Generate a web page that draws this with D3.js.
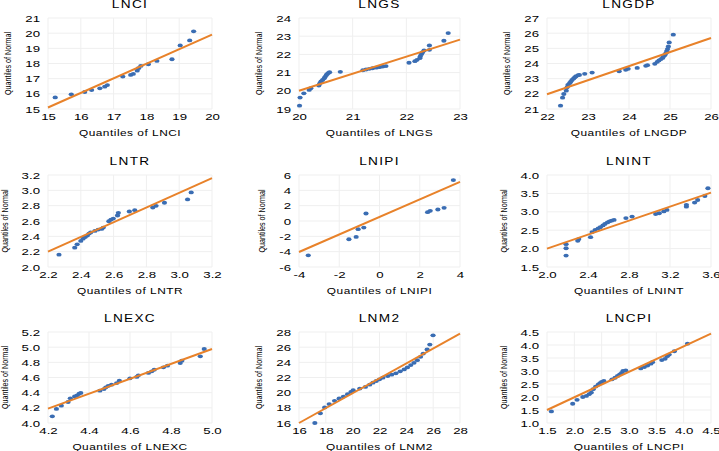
<!DOCTYPE html>
<html><head><meta charset="utf-8">
<script src="https://cdn.jsdelivr.net/npm/d3@7"></script>
<style>
html,body{margin:0;padding:0;background:#fff;}
svg{display:block;font-family:"Liberation Sans",Arial,sans-serif;}
</style></head>
<body>
<svg id="chart" width="719" height="451"></svg>
<script>
// ---- data ----
const titles = ["LNCI","LNGS","LNGDP","LNTR","LNIPI","LNINT","LNEXC","LNM2","LNCPI"];

const lnciX = [15.22,15.71,16.12,16.33,16.58,16.73,16.81,17.28,17.52,17.60,17.72,17.76,17.83,18.06,18.32,18.78,19.03,19.32,19.44];
const lnciY = [15.76,15.97,16.12,16.25,16.36,16.47,16.58,17.14,17.25,17.31,17.53,17.69,17.84,17.95,18.17,18.28,19.19,19.52,20.12];

const lngsX = [20.01,20.02,20.09,20.19,20.22,20.37,20.39,20.41,20.44,20.47,20.49,20.51,20.53,20.55,20.57,20.77,21.19,21.25,21.31,21.37,21.44,21.50,21.56,21.62,22.05,22.16,22.20,22.25,22.26,22.28,22.30,22.33,22.43,22.43,22.70,22.78];
const lngsY = [19.18,19.63,19.86,20.05,20.14,20.29,20.42,20.51,20.60,20.69,20.78,20.87,20.93,20.99,21.02,21.04,21.13,21.17,21.21,21.24,21.27,21.30,21.33,21.36,21.54,21.63,21.70,21.79,21.89,22.01,22.11,22.22,22.25,22.49,22.75,23.17];

const lngdpX = [22.33,22.38,22.41,22.47,22.49,22.51,22.55,22.58,22.61,22.65,22.68,22.71,22.76,22.79,22.92,23.10,23.76,23.92,23.98,24.20,24.41,24.45,24.63,24.69,24.73,24.78,24.82,24.84,24.87,24.90,24.92,24.94,24.96,24.98,25.08];
const lngdpY = [21.22,21.75,21.99,22.21,22.43,22.59,22.70,22.81,22.92,23.01,23.10,23.16,23.23,23.25,23.32,23.40,23.49,23.58,23.65,23.71,23.85,23.89,23.98,24.11,24.20,24.29,24.37,24.46,24.55,24.68,24.82,24.95,25.12,25.39,25.90];

const lntrX = [2.267,2.363,2.378,2.40,2.414,2.427,2.44,2.45,2.46,2.486,2.506,2.527,2.537,2.571,2.584,2.598,2.624,2.629,2.696,2.729,2.839,2.859,2.91,3.051,3.073];
const lntrY = [2.161,2.252,2.296,2.34,2.37,2.39,2.41,2.436,2.45,2.47,2.488,2.497,2.514,2.597,2.619,2.632,2.672,2.707,2.724,2.741,2.776,2.798,2.838,2.881,2.973];

const lnipiX = [-3.54,-1.52,-1.16,-1.06,-0.78,-0.67,2.39,2.52,2.90,3.21,3.67];
const lnipiY = [-4.48,-2.38,-2.08,-1.07,-0.86,0.98,1.15,1.33,1.50,1.72,5.34];

const lnintX = [2.186,2.186,2.186,2.30,2.31,2.425,2.44,2.47,2.50,2.52,2.546,2.565,2.59,2.61,2.63,2.654,2.77,2.83,3.06,3.095,3.14,3.17,3.36,3.36,3.44,3.47,3.54,3.57];
const lnintY = [1.81,2.01,2.12,2.21,2.26,2.31,2.45,2.51,2.55,2.58,2.63,2.67,2.71,2.74,2.76,2.78,2.83,2.87,2.94,2.96,3.01,3.05,3.14,3.19,3.25,3.32,3.43,3.64];

const lnexcX = [4.221,4.241,4.265,4.298,4.309,4.33,4.342,4.352,4.36,4.453,4.473,4.482,4.494,4.51,4.535,4.548,4.60,4.633,4.641,4.69,4.706,4.718,4.763,4.783,4.845,4.853,4.943,4.962];
const lnexcY = [4.088,4.185,4.229,4.277,4.325,4.35,4.365,4.387,4.396,4.426,4.448,4.47,4.49,4.505,4.527,4.558,4.589,4.607,4.629,4.66,4.681,4.703,4.734,4.756,4.791,4.822,4.879,4.976];

const lnm2X = [17.18,17.59,17.91,18.25,18.65,18.99,19.31,19.62,19.87,20.04,20.53,20.95,21.27,21.51,21.76,22.0,22.25,22.61,22.91,23.22,23.54,23.84,24.08,24.33,24.57,24.82,25.06,25.26,25.55,25.75,25.99];
const lnm2Y = [16.0,17.27,18.05,18.49,18.92,19.23,19.49,19.80,20.10,20.32,20.54,20.76,21.06,21.32,21.54,21.76,21.98,22.20,22.37,22.55,22.81,23.07,23.33,23.64,23.94,24.29,24.73,25.16,25.69,26.34,27.56];

const lncpiX = [1.58,1.97,2.05,2.155,2.22,2.27,2.31,2.345,2.39,2.44,2.47,2.50,2.54,2.69,2.745,2.79,2.83,2.866,2.89,2.94,3.215,3.28,3.34,3.40,3.43,3.60,3.66,3.70,3.735,3.83,4.07];
const lncpiY = [1.445,1.74,1.89,2.0,2.04,2.11,2.17,2.30,2.40,2.48,2.53,2.58,2.62,2.68,2.74,2.81,2.87,2.93,3.0,3.02,3.10,3.15,3.21,3.28,3.34,3.42,3.47,3.57,3.63,3.76,4.05];

// fitted reference lines: y-values at the two ends of the x axis
const lineStartY = [15.1, 20.0, 21.97, 2.2, -4.04, 2.0, 4.19, 16.0, 1.5];
const lineEndY   = [19.9, 22.81, 25.68, 3.16, 5.1, 3.52, 4.976, 27.8, 4.44];

const xTickValues = [
  [15,16,17,18,19,20],[20,21,22,23],[22,23,24,25,26],
  [2.2,2.4,2.6,2.8,3.0,3.2],[-4,-2,0,2,4],[2.0,2.4,2.8,3.2,3.6],
  [4.2,4.4,4.6,4.8,5.0],[16,18,20,22,24,26,28],[1.5,2.0,2.5,3.0,3.5,4.0,4.5]
];
const yTickValues = [
  [15,16,17,18,19,20,21],[19,20,21,22,23,24],[21,22,23,24,25,26,27],
  [2.0,2.2,2.4,2.6,2.8,3.0,3.2],[-6,-4,-2,0,2,4,6],[1.5,2.0,2.5,3.0,3.5,4.0],
  [4.0,4.2,4.4,4.6,4.8,5.0,5.2],[16,18,20,22,24,26,28],[1.0,1.5,2.0,2.5,3.0,3.5,4.0,4.5]
];
const tickDecimals = [0,0,0,1,0,1,1,0,1];

const seriesX = [lnciX,lngsX,lngdpX,lntrX,lnipiX,lnintX,lnexcX,lnm2X,lncpiX];
const seriesY = [lnciY,lngsY,lngdpY,lntrY,lnipiY,lnintY,lnexcY,lnm2Y,lncpiY];

// ---- layout ----
const colBounds = [[48,212],[299,460],[547,711]];
const rowBounds = [[18,109],[175,267],[332,423]];
const TICK_FS = 9.6, TICK_SX = 1.38;

const svg = d3.select("#chart");

titles.forEach((title, i) => {
  const c = i % 3, r = Math.floor(i / 3);
  const [x0, x1] = colBounds[c], [y0, y1] = rowBounds[r];
  const xt = xTickValues[i], yt = yTickValues[i];
  const x = d3.scaleLinear().domain([xt[0], xt[xt.length-1]]).range([x0, x1]);
  const y = d3.scaleLinear().domain([yt[0], yt[yt.length-1]]).range([y1, y0]);
  const fmt = d3.format("." + tickDecimals[i] + "f");
  const tf = d => fmt(d).replace("\u2212","-");
  const g = svg.append("g");

  // gridlines
  g.append("g").selectAll("line").data(xt).join("line")
    .attr("x1", d => x(d)).attr("x2", d => x(d)).attr("y1", y0).attr("y2", y1)
    .attr("stroke", "#efefef").attr("stroke-width", 1);
  g.append("g").selectAll("line").data(yt).join("line")
    .attr("y1", d => y(d)).attr("y2", d => y(d)).attr("x1", x0).attr("x2", x1)
    .attr("stroke", "#efefef").attr("stroke-width", 1);

  // x axis (labels only)
  const gx = g.append("g").attr("transform", `translate(0,${y1 + 4})`)
    .call(d3.axisBottom(x).tickValues(xt).tickFormat(tf).tickSize(0).tickPadding(0));
  gx.select(".domain").remove();
  gx.selectAll("text").attr("font-size", TICK_FS).attr("fill", "#000")
    .attr("font-family", "Liberation Sans, Arial, sans-serif")
    .attr("transform", `scale(${TICK_SX},1)`);

  // y axis (labels only)
  const gy = g.append("g").attr("transform", `translate(${x0},0)`)
    .call(d3.axisLeft(y).tickValues(yt).tickFormat(tf).tickSize(0).tickPadding(8));
  gy.select(".domain").remove();
  gy.selectAll("text").attr("font-size", TICK_FS).attr("fill", "#000")
    .attr("font-family", "Liberation Sans, Arial, sans-serif")
    .attr("x", -8 / TICK_SX)
    .attr("transform", `scale(${TICK_SX},1)`);

  let maxW = 0;
  gy.selectAll("text").each(function(){ maxW = Math.max(maxW, this.getComputedTextLength() * TICK_SX); });

  // title
  g.append("text").attr("transform", `translate(${(x0 + x1) / 2},${y0 - 10}) scale(1.3,1)`)
    .attr("text-anchor", "middle").attr("font-size", 10.5).attr("letter-spacing", 1)
    .attr("fill", "#000").text(title);

  // x label
  g.append("text").attr("transform", `translate(${(x0 + x1) / 2},${y1 + 26.5}) scale(1.25,1)`)
    .attr("text-anchor", "middle").attr("font-size", 9.5).attr("letter-spacing", 0.4)
    .attr("fill", "#000").text("Quantiles of " + title);

  // y label
  const ly = (y0 + y1) / 2, lx = x0 - 8 - maxW - 14;
  g.append("text").attr("transform", `translate(${lx},${ly}) rotate(-90)`)
    .attr("text-anchor", "middle").attr("font-size", 9.5)
    .attr("textLength", 63).attr("lengthAdjust", "spacingAndGlyphs")
    .attr("fill", "#000").text("Quantiles of Normal");

  // points
  const pts = seriesX[i].map((v, k) => [v, seriesY[i][k]]);
  g.append("g").selectAll("ellipse").data(pts).join("ellipse")
    .attr("cx", d => x(d[0])).attr("cy", d => y(d[1]))
    .attr("rx", 2.6).attr("ry", 1.9).attr("fill", "#3a6db3");

  // reference line
  const lineData = [[xt[0], lineStartY[i]], [xt[xt.length-1], lineEndY[i]]];
  g.append("path").datum(lineData)
    .attr("d", d3.line().x(d => x(d[0])).y(d => y(d[1])))
    .attr("fill", "none").attr("stroke", "#e8822a").attr("stroke-width", 2);
});
</script>
</body></html>
